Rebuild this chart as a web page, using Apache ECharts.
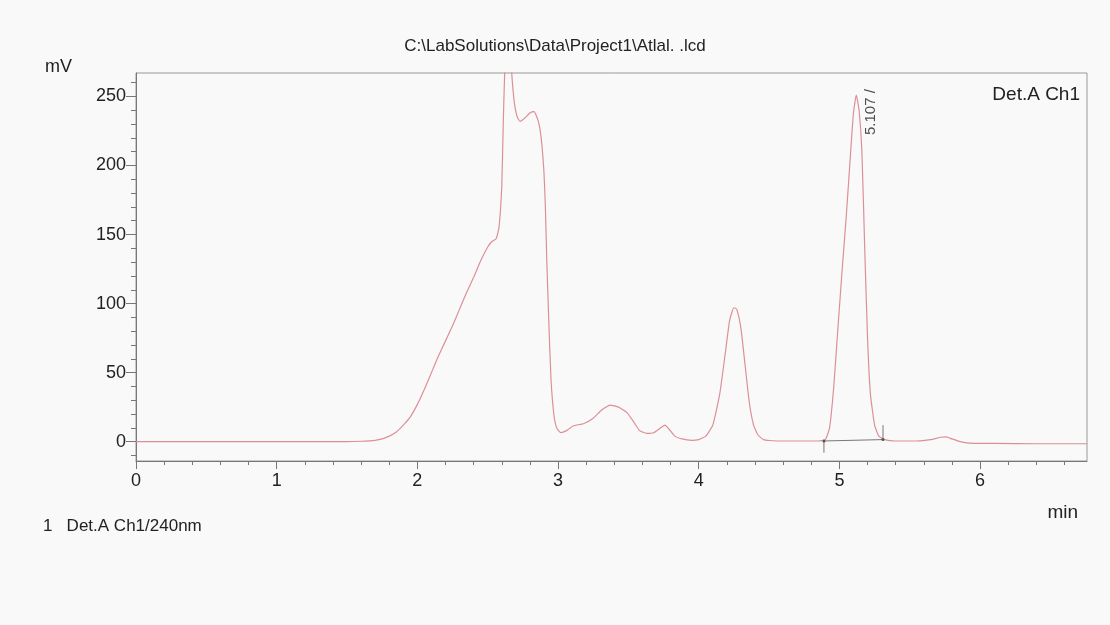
<!DOCTYPE html>
<html>
<head>
<meta charset="utf-8">
<script src="https://cdn.jsdelivr.net/npm/echarts@6/dist/echarts.min.js"></script>
<style>html,body{margin:0;padding:0;background:#f9f9f9;}#c{width:1110px;height:625px;}</style>
</head>
<body>
<div id="c"></div>
<script>
// Chromatogram data (time in min, signal in mV)
var timeMin = [0,0.5,1.0,1.5,1.6,1.7,1.75,1.8,1.85,1.9,1.95,2.0,2.05,2.1,2.15,2.2,2.25,2.3,2.35,2.4,2.45,2.5,2.53,2.56,2.58,2.6,2.61,2.62,2.64,2.655,2.67,2.69,2.71,2.73,2.76,2.8,2.83,2.86,2.88,2.9,2.91,2.92,2.935,2.95,2.97,2.99,3.02,3.06,3.11,3.18,3.25,3.31,3.37,3.43,3.49,3.54,3.58,3.63,3.68,3.73,3.76,3.79,3.83,3.88,3.95,4.0,4.05,4.1,4.15,4.19,4.22,4.25,4.27,4.3,4.33,4.36,4.39,4.42,4.46,4.55,4.7,4.85,4.9,4.93,4.96,4.99,5.02,5.05,5.08,5.1,5.12,5.14,5.16,5.18,5.2,5.22,5.25,5.28,5.32,5.4,5.55,5.65,5.72,5.76,5.8,5.86,5.92,6.1,6.4,6.76];
var signalMv = [0,0,0,0,0.3,1,2,4,7,12,18,27,38,50,62,73,84,96,108,119,131,141,145,147,155,185,228,265,300,300,268,245,235,232,234,238,239,232,220,195,170,131,85,45,20,10,6.5,8,11.5,13,17,23,26.5,25,21,14,8,6,6.5,10,12,9,4,2,1,1.5,4,12,35,65,88,97,96,82,55,28,12,5,1.5,0.5,0.5,0.5,1.5,10,40,83,125,165,210,238,251,240,210,140,75,35,12,4,1.5,0.5,0.5,1.5,3.2,3.5,2,0,-1,-1.2,-1.5,-1.5];
// integration baseline of the 5.107 peak
var baseT = [4.89, 5.31];
var baseV = [0.5, 1.5];
var startTickV = [0.5, -8];
var endTickV = [12, 1.5];
// peak annotation
var annoT = [5.12];
var annoV = [251];
var annoText = ['5.107 /'];
// axis ticks
var xTicks = [0,1,2,3,4,5,6];
var xMinor = [0.2,0.4,0.6,0.8,1.2,1.4,1.6,1.8,2.2,2.4,2.6,2.8,3.2,3.4,3.6,3.8,4.2,4.4,4.6,4.8,5.2,5.4,5.6,5.8,6.2,6.4,6.6];
var yMajor = [0,50,100,150,200,250];
var yMinor = [-10,0,10,20,30,40,50,60,70,80,90,100,110,120,130,140,150,160,170,180,190,200,210,220,230,240,250,260];

var curve = timeMin.map(function(t,i){return [t, signalMv[i]];});
var baseLine = baseT.map(function(t,i){return [t, baseV[i]];});
var tick1 = startTickV.map(function(v){return [baseT[0], v];});
var tick2 = endTickV.map(function(v){return [baseT[1], v];});
var anno = annoT.map(function(t,i){return {value:[t, annoV[i]], name: annoText[i]};});

var FONT = 'Liberation Sans, Arial, sans-serif';
var TXT = '#222';
var AX = '#777';

var chart = echarts.init(document.getElementById('c'), null, {renderer:'canvas'});
chart.setOption({
  backgroundColor: '#f9f9f9',
  animation: false,
  title: [
    {text: 'C:\\LabSolutions\\Data\\Project1\\Atlal. .lcd', left: 'center', top: 33, textStyle:{fontFamily:FONT, fontSize:17, fontWeight:'normal', color:TXT}},
    {text: 'mV', left: 40, top: 53, textStyle:{fontFamily:FONT, fontSize:18, fontWeight:'normal', color:TXT}},
    {text: 'Det.A Ch1', right: 25, top: 80, textStyle:{fontFamily:FONT, fontSize:19, fontWeight:'normal', color:TXT}},
    {text: 'min', right: 27, top: 498, textStyle:{fontFamily:FONT, fontSize:19, fontWeight:'normal', color:TXT}},
    {text: '1   Det.A Ch1/240nm', left: 38, top: 513, textStyle:{fontFamily:FONT, fontSize:17, fontWeight:'normal', color:TXT}}
  ],
  grid: {left: 136, right: 23, top: 73, bottom: 164, show: true, borderColor: '#999', borderWidth: 1, backgroundColor: 'transparent'},
  xAxis: [{
    type: 'value', min: 0, max: 6.76, position: 'bottom',
    axisLine: {show: true, onZero: false, lineStyle:{color:AX, width:1}},
    axisTick: {show: true, length: 8, lineStyle:{color:AX}, customValues: xTicks},
    splitLine: {show: false},
    axisLabel: {show: true, margin: 11, fontFamily: FONT, fontSize: 18, color: TXT, customValues: xTicks}
  },{
    type: 'value', min: 0, max: 6.76, position: 'bottom',
    axisLine: {show: false, onZero: false},
    axisTick: {show: true, length: 4, lineStyle:{color:AX}, customValues: xMinor},
    splitLine: {show: false},
    axisLabel: {show: false}
  }],
  yAxis: [{
    type: 'value', min: -14, max: 267, position: 'left',
    axisLine: {show: true, onZero: false, lineStyle:{color:AX, width:1}},
    axisTick: {show: true, length: 10, lineStyle:{color:AX}, customValues: yMajor},
    splitLine: {show: false},
    axisLabel: {show: true, margin: 10, fontFamily: FONT, fontSize: 18, color: TXT, customValues: yMajor}
  },{
    type: 'value', min: -14, max: 267, position: 'left',
    axisLine: {show: false, onZero: false},
    axisTick: {show: true, length: 5, lineStyle:{color:AX}, customValues: yMinor},
    splitLine: {show: false},
    axisLabel: {show: false}
  }],
  series: [
    {type: 'line', data: curve, showSymbol: false, symbol: 'none', clip: true, smooth: 0.15,
      lineStyle: {color: '#dc8f98', width: 1.2}},
    {type: 'line', data: baseLine, symbol: 'circle', symbolSize: 3, clip: true,
      itemStyle: {color: '#555'}, lineStyle: {color: '#777', width: 1}},
    {type: 'line', data: tick1, symbol: 'none', lineStyle: {color: '#777', width: 1}},
    {type: 'line', data: tick2, symbol: 'none', lineStyle: {color: '#777', width: 1}},
    {type: 'scatter', data: anno, symbolSize: 0,
      label: {show: true, formatter: function(p){return p.name;}, position: 'inside', rotate: 90,
        offset: [-17, 15], fontFamily: FONT, fontSize: 15, color: TXT}}
  ]
});
</script>
</body>
</html>
